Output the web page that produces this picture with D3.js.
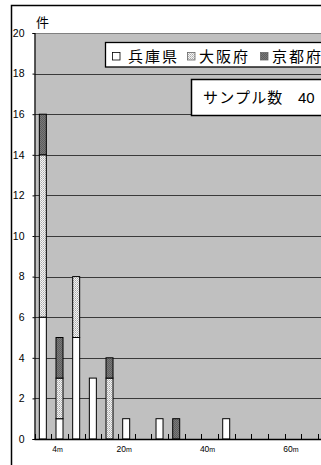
<!DOCTYPE html>
<html>
<head>
<meta charset="utf-8">
<script src="https://cdn.jsdelivr.net/npm/d3@7/dist/d3.min.js"></script>
<style>
  html, body { margin: 0; padding: 0; background: #fff; overflow: hidden; }
  svg { display: block; }
</style>
</head>
<body>
<svg id="chart" width="321" height="465"></svg>
<script>
// Distance bins (m), one category every 4 m
const categories = [0, 4, 8, 12, 16, 20, 24, 28, 32, 36, 40, 44, 48, 52, 56, 60, 64, 68, 72, 76];
// Counts per prefecture for each bin
const hyogo = [6, 1, 5, 3, 0, 1, 0, 1, 0, 0, 0, 1, 0, 0, 0, 0, 0, 0, 0, 0];
const osaka = [8, 2, 3, 0, 3, 0, 0, 0, 0, 0, 0, 0, 0, 0, 0, 0, 0, 0, 0, 0];
const kyoto = [2, 2, 0, 0, 1, 0, 0, 0, 1, 0, 0, 0, 0, 0, 0, 0, 0, 0, 0, 0];
const seriesNames = ["兵庫県", "大阪府", "京都府"];
const yTicks = [0, 2, 4, 6, 8, 10, 12, 14, 16, 18, 20];
const xLabelBins = [4, 20, 40, 60];

const svg = d3.select("#chart");
const defs = svg.append("defs");

// fine light diagonal hatch
const hatch = defs.append("pattern").attr("id", "hatch")
  .attr("patternUnits", "userSpaceOnUse").attr("width", 2).attr("height", 2);
hatch.append("rect").attr("width", 2).attr("height", 2).attr("fill", "#f4f4f4");
hatch.append("rect").attr("x", 1).attr("y", 0).attr("width", 1).attr("height", 1).attr("fill", "#a9a9a9");
hatch.append("rect").attr("x", 0).attr("y", 1).attr("width", 1).attr("height", 1).attr("fill", "#c4c4c4");

// dark dotted fill
const dark = defs.append("pattern").attr("id", "dark")
  .attr("patternUnits", "userSpaceOnUse").attr("width", 2).attr("height", 2);
dark.append("rect").attr("width", 2).attr("height", 2).attr("fill", "#7a7a7a");
dark.append("rect").attr("width", 1).attr("height", 1).attr("fill", "#5e5e5e");
dark.append("rect").attr("x", 1).attr("y", 1).attr("width", 1).attr("height", 1).attr("fill", "#5e5e5e");

const fills = ["#ffffff", "url(#hatch)", "url(#dark)"];

const plotLeft = 34.5, plotTop = 33, plotBottom = 439, step = 16.67, plotRight = 330;
const x = d3.scaleBand()
  .domain(categories)
  .range([plotLeft, plotLeft + categories.length * step])
  .paddingInner(0.58)
  .paddingOuter(0.29);
const y = d3.scaleLinear().domain([0, 20]).range([plotBottom, plotTop]);

// chart frame
svg.append("path")
  .attr("d", "M11.5,470 V5.5 H330")
  .attr("fill", "none").attr("stroke", "#000").attr("stroke-width", 1.5);

// plot area
svg.append("rect")
  .attr("x", plotLeft).attr("y", y(20))
  .attr("width", plotRight - plotLeft).attr("height", y(0) - y(20))
  .attr("fill", "#c0c0c0");

// horizontal grid
svg.append("g").selectAll("line")
  .data(yTicks.filter(d => d > 0))
  .join("line")
  .attr("x1", plotLeft).attr("x2", plotRight)
  .attr("y1", d => Math.round(y(d)) + 0.5).attr("y2", d => Math.round(y(d)) + 0.5)
  .attr("stroke", d => d === 20 ? "#808080" : "#3a3a3a").attr("stroke-width", 1.2);

// stacked bars
const table = categories.map((c, i) => ({ bin: c, 兵庫県: hyogo[i], 大阪府: osaka[i], 京都府: kyoto[i] }));
const stack = d3.stack().keys(seriesNames)(table);
svg.append("g").selectAll("g")
  .data(stack)
  .join("g")
  .attr("fill", (d, i) => fills[i])
  .selectAll("rect")
  .data(d => d.filter(s => s[1] > s[0]))
  .join("rect")
  .attr("x", d => x(d.data.bin))
  .attr("width", x.bandwidth())
  .attr("y", d => y(d[1]))
  .attr("height", d => y(d[0]) - y(d[1]))
  .attr("stroke", "#000").attr("stroke-width", 1);

// y axis
const yAxis = svg.append("g").attr("transform", `translate(${plotLeft},0)`)
  .call(d3.axisLeft(y).tickValues(yTicks).tickSize(2).tickPadding(8));
yAxis.select(".domain").attr("stroke", "#000").attr("stroke-width", 1.2);
yAxis.selectAll("text")
  .attr("font-family", "'Liberation Sans', Arial, sans-serif")
  .attr("font-size", 10.5).attr("fill", "#000");

// x axis: baseline and inward ticks at bin boundaries
const boundaries = d3.range(categories.length + 1).map(i => x.range()[0] + i * x.step());
svg.append("line")
  .attr("x1", plotLeft).attr("x2", plotRight)
  .attr("y1", plotBottom + 0.5).attr("y2", plotBottom + 0.5)
  .attr("stroke", "#000").attr("stroke-width", 1.5);
svg.append("g").selectAll("line")
  .data(boundaries)
  .join("line")
  .attr("x1", d => Math.round(d) + 0.5).attr("x2", d => Math.round(d) + 0.5)
  .attr("y1", plotBottom - 5).attr("y2", plotBottom)
  .attr("stroke", "#000").attr("stroke-width", 1);

// x labels
const xl = svg.append("g").selectAll("text")
  .data(xLabelBins)
  .join("text")
  .attr("x", d => x(d) + x.bandwidth() / 2 - 2)
  .attr("y", 452)
  .attr("text-anchor", "middle")
  .attr("font-family", "'Liberation Sans', Arial, sans-serif")
  .attr("font-size", 8.5).attr("fill", "#000");
xl.append("tspan").text(d => d);
xl.append("tspan").attr("font-size", 7).text("m");

// unit label
svg.append("text")
  .attr("x", 36).attr("y", 27)
  .attr("font-family", "'Noto Sans CJK JP', sans-serif")
  .attr("font-size", 13).attr("fill", "#000")
  .text("件");

// legend
const jp = "'Noto Sans CJK JP', 'Noto Sans CJK SC', sans-serif";
svg.append("rect")
  .attr("x", 105.5).attr("y", 42.5).attr("width", 240).attr("height", 24.5)
  .attr("fill", "#fff").attr("stroke", "#000").attr("stroke-width", 1.3);
const legendX = [112, 187, 260];
const legend = svg.append("g").selectAll("g")
  .data(seriesNames)
  .join("g")
  .attr("transform", (d, i) => `translate(${legendX[i]},0)`);
legend.append("rect")
  .attr("x", 0.5).attr("y", 52.5).attr("width", 7.5).attr("height", 7.5)
  .attr("fill", (d, i) => fills[i])
  .attr("stroke", (d, i) => i === 0 ? "#000" : "#666").attr("stroke-width", 0.8);
legend.append("text")
  .attr("x", (d, i) => i === 0 ? 16 : 12).attr("y", 62)
  .attr("font-family", jp).attr("font-size", 15)
  .attr("letter-spacing", 2).attr("fill", "#000")
  .text(d => d);

// sample size box
const total = d3.sum(hyogo) + d3.sum(osaka) + d3.sum(kyoto);
svg.append("rect")
  .attr("x", 191.5).attr("y", 79.5).attr("width", 160).attr("height", 36)
  .attr("fill", "#fff").attr("stroke", "#000").attr("stroke-width", 1.5);
const st = svg.append("text")
  .attr("x", 203).attr("y", 103)
  .attr("font-family", jp).attr("font-size", 15).attr("fill", "#000");
st.append("tspan").attr("letter-spacing", 1.2).text("サンプル数");
st.append("tspan").attr("x", 298)
  .attr("font-family", "'Liberation Sans', Arial, sans-serif")
  .text(total);
</script>
</body>
</html>
